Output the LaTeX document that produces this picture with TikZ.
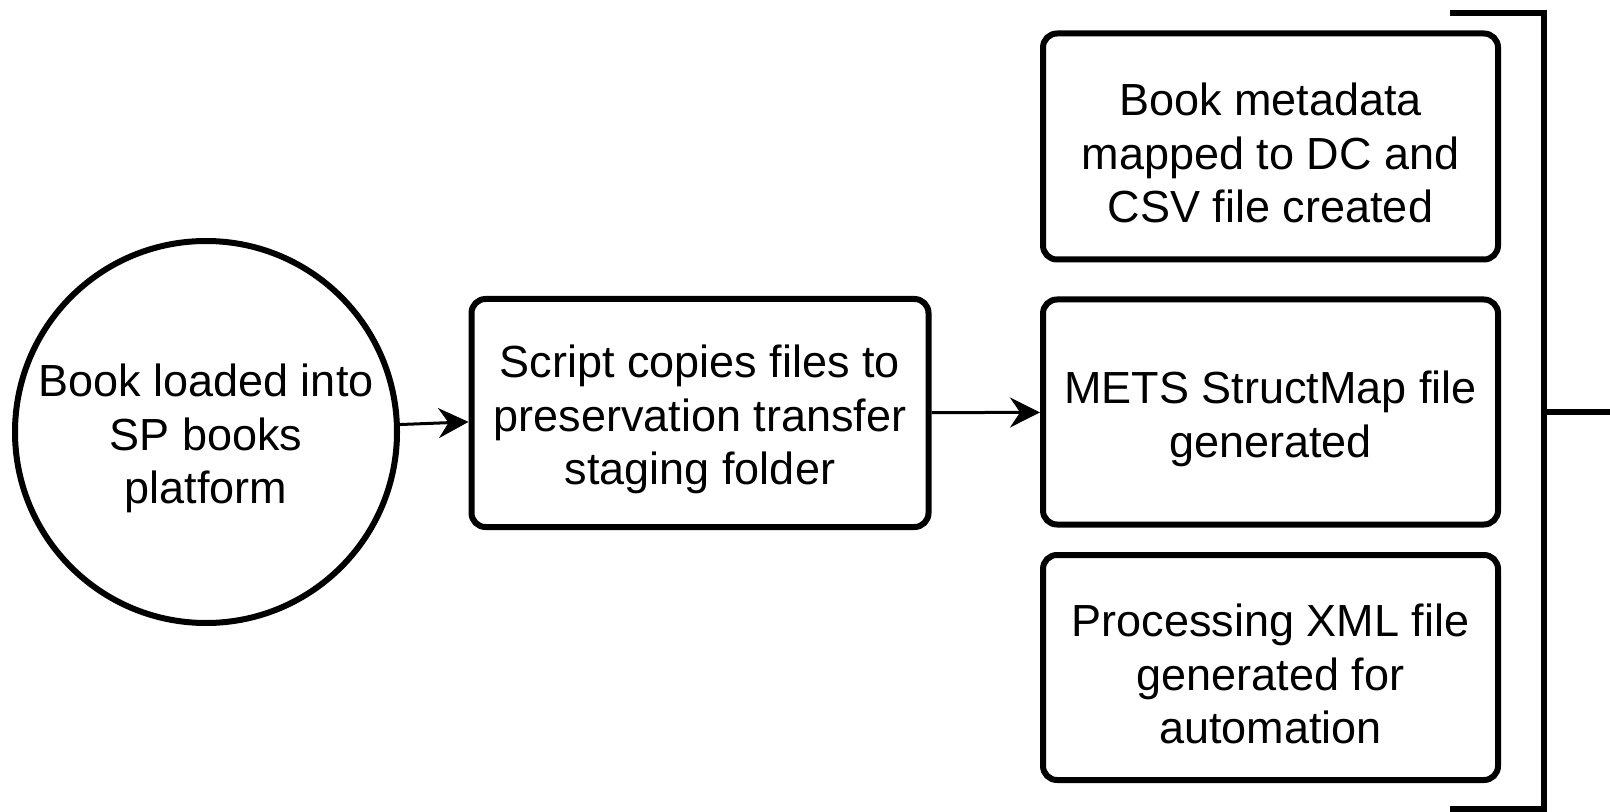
\documentclass[tikz,border=0pt]{standalone}
\usepackage{fontspec}
\setmainfont{Liberation Sans}
\usetikzlibrary{arrows.meta}
\begin{document}
\begin{tikzpicture}[x=0.5pt,y=-0.5pt,
  lbl/.style={align=center, font=\fontsize{22.5}{26.8}\selectfont, inner sep=0pt, yshift=-3.3pt},
  shp/.style={draw, line width=3pt, inner sep=0pt},
  box/.style={shp, rounded corners=7pt},
  circ/.style={shp, circle, minimum size=191pt},
  arr/.style={-{Stealth[length=15pt,width=15pt,inset=5pt]}, line width=1.5pt},
  brk/.style={line width=3.2pt}]
\useasboundingbox (0,0) rectangle (1610,812);
\node[circ, label={[lbl]center:Book loaded into\\SP books\\platform}] (c) at (206,432) {};
\node[box, minimum width=228.5pt, minimum height=114pt, label={[lbl]center:Script copies files to\\preservation transfer\\staging folder}] (b2) at (700,413) {};
\node[box, minimum width=227.5pt, minimum height=113pt, label={[lbl]center:Book metadata\\mapped to DC and\\CSV file created}] (b1) at (1270.5,146.5) {};
\node[box, minimum width=227.5pt, minimum height=112.5pt, label={[lbl]center:METS StructMap file\\generated}] (b3) at (1270.5,412) {};
\node[box, minimum width=227.5pt, minimum height=112.5pt, label={[lbl]center:Processing XML file\\generated for\\automation}] (b4) at (1270.5,667.5) {};
\draw[arr] (c) -- (b2);
\draw[arr] (b2) -- (b3);
\coordinate (bt) at (1450,13);
\coordinate (tr) at (1544,13);
\coordinate (br) at (1544,809);
\coordinate (bb) at (1450,809);
\coordinate (mid) at (1544,412);
\coordinate (out) at (1610,412);
\draw[brk] (bt) -- (tr) -- (br) -- (bb);
\draw[brk] (mid) -- (out);
\end{tikzpicture}
\end{document}
